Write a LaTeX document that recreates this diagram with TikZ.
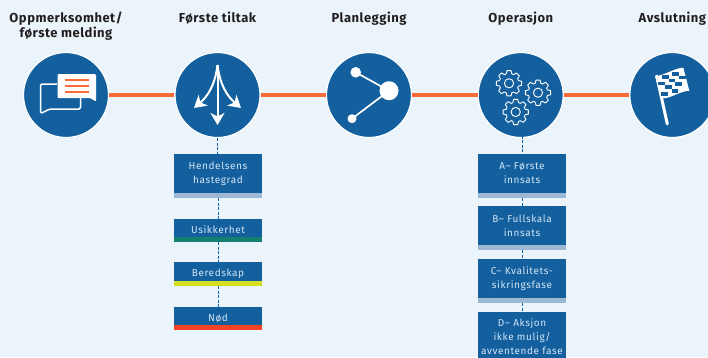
\documentclass[tikz,border=0pt]{standalone}
\usepackage{xcolor}
\usepackage{fontspec}
\setmainfont{Fira Sans}
\usetikzlibrary{arrows.meta, positioning}
\definecolor{pageblue}{HTML}{EBF4FA}
\definecolor{roundblue}{HTML}{14609F}
\definecolor{linkorange}{HTML}{F96C38}
\definecolor{boxtext}{HTML}{D3E5F4}
\definecolor{darktext}{HTML}{231F20}
\definecolor{stripgrey}{HTML}{9DB8D2}
\definecolor{stripgreen}{HTML}{13806F}
\definecolor{stripyellow}{HTML}{D4DE1E}
\definecolor{stripred}{HTML}{F54327}
\tikzset{
gear/.pic = {
  \draw[white, line width=.9pt, line join=round] (-17:9.8)
    \foreach \a in {0,45,...,315} {-- (\a-17:9.8) -- (\a-9:12.8) -- (\a+9:12.8) -- (\a+17:9.8)} -- cycle;
  \draw[white, line width=.9pt] (0,0) circle (4.6);
}
}
\begin{document}
\begin{tikzpicture}[
x=1pt, y=-1pt,
node distance = 8pt and 10pt,
phase/.style = {circle, fill=roundblue, draw=white, line width=1.2pt,
                inner sep=0pt, minimum size=85pt},
title/.style = {anchor=north, align=center, text=darktext, inner sep=0pt,
                font=\bfseries\fontsize{13}{15}\selectfont\addfontfeature{LetterSpace=4}},
box/.style = {fill=roundblue, text=boxtext, align=center, inner sep=0pt, outer sep=0pt,
              minimum width=88pt, minimum height=39pt,
              font=\fontsize{10}{14}\selectfont\addfontfeature{LetterSpace=6}},
low/.style = {box, minimum height=18pt, text height=10pt, text depth=0pt},
strip/.style 2 args = {fill=#1, inner sep=0pt, outer sep=0pt, minimum width=88pt,
                       minimum height=5pt, below=0pt of #2},
link/.style = {draw=linkorange, line width=4pt},
step line/.style = {draw=roundblue, line width=.8pt, dash pattern=on 3pt off 1.5pt},
branch/.style = {white, line width=2pt, -{Stealth[length=12pt, width=14pt, inset=3.5pt]}},
]
\useasboundingbox[fill=pageblue] (0,0) rectangle (708,357);
\coordinate (top) at (0,11.5);
% round phases
\node (c1) [phase] at (66,95)    {};
\node (c2) [phase] at (217.5,95) {};
\node (c3) [phase] at (369,95)   {};
\node (c4) [phase] at (520.7,95) {};
\node (c5) [phase] at (672.3,95) {};
\draw[link] (c1) -- (c2);
\draw[link] (c2) -- (c3);
\draw[link] (c3) -- (c4);
\draw[link] (c4) -- (c5);
% titles
\node (t1) [title] at (c1 |- top) {Oppmerksomhet/\\første melding};
\node (t2) [title] at (c2 |- top) {Første tiltak};
\node (t3) [title] at (c3 |- top) {Planlegging};
\node (t4) [title] at (c4 |- top) {Operasjon};
\node (t5) [title] at (c5 |- top) {Avslutning};
% left column
\node (h1) [box, anchor=north] at (218,154) {Hendelsens\\hastegrad};
\node (h1s) [strip={stripgrey}{h1}] {};
\node (h2) [low, below=21pt of h1s] {Usikkerhet};
\node (h2s) [strip={stripgreen}{h2}] {};
\node (h3) [low, below=20pt of h2s, minimum height=19pt] {Beredskap};
\node (h3s) [strip={stripyellow}{h3}] {};
\node (h4) [low, below=21pt of h3s] {Nød};
\node (h4s) [strip={stripred}{h4}] {};
\draw[step line] (c2) -- (c2 |- h1.north);
\draw[step line] (h1s) -- (h2);
\draw[step line] (h2s) -- (h3);
\draw[step line] (h3s) -- (h4);
% right column
\node (a1) [box, anchor=north] at (522,154) {A– Første\\innsats};
\node (a1s) [strip={stripgrey}{a1}] {};
\node (a2) [box, below=8pt of a1s] {B– Fullskala\\innsats};
\node (a2s) [strip={stripgrey}{a2}] {};
\node (a3) [box, below=9pt of a2s] {C– Kvalitets-\\sikringsfase};
\node (a3s) [strip={stripgrey}{a3}] {};
\node (a4) [box, below=9pt of a3s, minimum height=49pt] {D– Aksjon\\ikke mulig/\\avventende fase};
\draw[step line] (c4 -| a1) -- (a1);
\draw[step line] (a1s) -- (a2);
\draw[step line] (a2s) -- (a3);
\draw[step line] (a3s) -- (a4);
% speech bubbles
\draw[white, line width=1.5pt, line join=round, rounded corners=1.5pt]
  (57,84) -- (40.5,84) -- (40.5,113.5) -- (50,109) -- (80.5,109) -- (80.5,98);
\fill[white, rounded corners=1pt] (57.5,74) -- (96,74) -- (96,101.5) -- (90,98) -- (57.5,98) -- cycle;
\foreach \y in {80,86.2,92.3}
  \draw[linkorange, line width=1.8pt] (65,\y) -- (89,\y);
% three arrows
\draw[branch] (217.5,65) -- (217.5,125);
\draw[branch] (217.5,65) .. controls (215,85) and (208,96) .. (194,108);
\draw[branch] (217.5,65) .. controls (220,85) and (227,96) .. (241,108);
% branching points
\draw[white, line width=1.7pt] (355.7,72.3) -- (389,90.7) -- (352,118.7);
\fill[white] (389,90.7) circle (9.5) (355.7,72.3) circle (5.3) (352,118.7) circle (4.5);
% gears
\pic at (509,83.3) {gear};
\pic at (538,92.7) {gear};
\pic at (515.7,112) {gear};
% flag
\draw[white, line width=3pt, line cap=round] (656.7,76) -- (667.3,124);
\fill[white] (655,76) .. controls (664,76) and (674,68) .. (683.3,67.7)
  -- (689.3,90.7) .. controls (680,91) and (670,99) .. (661.7,98.3) -- cycle;
\begin{scope}[shift={(656.5,76.5)}, x={(5.3pt,1.5pt)}, y={(1.5pt,-5.2pt)}]
  \foreach \i/\j in {1/0,3/0,0/1,2/1,4/1,1/2,3/2,0/3,2/3}
    \fill[roundblue] (\i,\j) rectangle ++(1,1);
\end{scope}
\end{tikzpicture}
\end{document}
